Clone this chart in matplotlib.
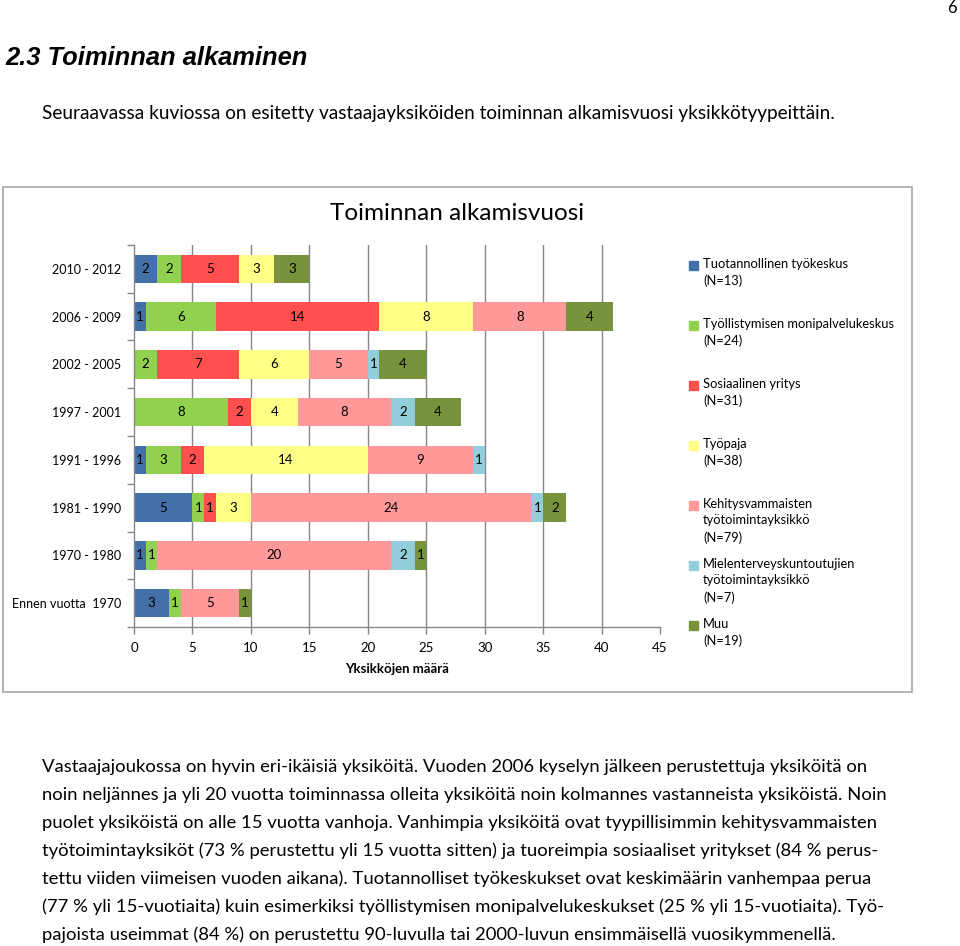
import numpy as np
import matplotlib
matplotlib.use("Agg")
import matplotlib.pyplot as plt
from matplotlib.patches import Rectangle

plt.rcParams['font.family'] = ['Lato', 'DejaVu Sans']

# ── data ──────────────────────────────────────────────
categories = ['2010 - 2012', '2006 - 2009', '2002 - 2005', '1997 - 2001',
              '1991 - 1996', '1981 - 1990', '1970 - 1980', 'Ennen vuotta  1970']
series = ['Tuotannollinen työkeskus\n(N=13)',
          'Työllistymisen monipalvelukeskus\n(N=24)',
          'Sosiaalinen yritys\n(N=31)',
          'Työpaja\n(N=38)',
          'Kehitysvammaisten\ntyötoimintayksikkö\n(N=79)',
          'Mielenterveyskuntoutujien\ntyötoimintayksikkö\n(N=7)',
          'Muu\n(N=19)']
tuotannollinen = [2, 1, 0, 0, 1, 5, 1, 3]
tyollistyminen = [2, 6, 2, 8, 3, 1, 1, 1]
sosiaalinen = [5, 14, 7, 2, 2, 1, 0, 0]
tyopaja = [3, 8, 6, 4, 14, 3, 0, 0]
kehitysvamma = [0, 8, 5, 8, 9, 24, 20, 5]
mielenterveys = [0, 0, 1, 2, 1, 1, 2, 0]
muu = [3, 4, 4, 4, 0, 2, 1, 1]
values = [tuotannollinen, tyollistyminen, sosiaalinen, tyopaja,
          kehitysvamma, mielenterveys, muu]
colors = ['#4470A8', '#92D050', '#FF5050', '#FFFF88', '#FF9999', '#92CDDC', '#77933C']
xticks = [0, 5, 10, 15, 20, 25, 30, 35, 40, 45]

body_lines = [
    'Vastaajajoukossa on hyvin eri-ikäisiä yksiköitä. Vuoden 2006 kyselyn jälkeen perustettuja yksiköitä on',
    'noin neljännes ja yli 20 vuotta toiminnassa olleita yksiköitä noin kolmannes vastanneista yksiköistä. Noin',
    'puolet yksiköistä on alle 15 vuotta vanhoja. Vanhimpia yksiköitä ovat tyypillisimmin kehitysvammaisten',
    'työtoimintayksiköt (73 % perustettu yli 15 vuotta sitten) ja tuoreimpia sosiaaliset yritykset (84 % perus-',
    'tettu viiden viimeisen vuoden aikana). Tuotannolliset työkeskukset ovat keskimäärin vanhempaa perua',
    '(77 % yli 15-vuotiaita) kuin esimerkiksi työllistymisen monipalvelukeskukset (25 % yli 15-vuotiaita). Työ-',
    'pajoista useimmat (84 %) on perustettu 90-luvulla tai 2000-luvun ensimmäisellä vuosikymmenellä.',
]

W, H = 960, 946
fig = plt.figure(figsize=(W / 100, H / 100), dpi=100)

def fx(px):
    return px / W

def fy(py):
    return 1 - py / H

# page texts
fig.text(fx(952), fy(8), '6', fontsize=12, ha='center', va='center')
fig.text(fx(5), fy(58), '2.3 Toiminnan alkaminen', family='Liberation Sans',
         fontsize=18.4, fontweight='bold', style='italic', ha='left', va='center')
fig.text(fx(42), fy(113), 'Seuraavassa kuviossa on esitetty vastaajayksiköiden toiminnan alkamisvuosi yksikkötyypeittäin.',
         fontsize=13.7, ha='left', va='center')
for i, line in enumerate(body_lines):
    fig.text(fx(42), fy(767 + 28 * i), line, fontsize=13.3, ha='left', va='center')

# chart frame
fig.patches.append(Rectangle((fx(3), fy(692)), fx(912) - fx(3), fy(187) - fy(692),
                             transform=fig.transFigure, fill=False,
                             edgecolor='#A6A6A6', linewidth=1.2))
fig.text(fx(457), fy(214), 'Toiminnan alkamisvuosi', fontsize=17.5, ha='center', va='center')

# ── axes ───────────────────────────────────────────────
ax = fig.add_axes([fx(134), fy(627), fx(660) - fx(134), fy(245) - fy(627)])
y = np.arange(len(categories))
left = np.zeros(len(categories))
for vals, col, name in zip(values, colors, series):
    vals = np.array(vals)
    bars = ax.barh(y, vals, left=left, height=0.6, color=col, label=name, zorder=2)
    for yi, v, l in zip(y, vals, left):
        if v > 0:
            ax.text(l + v / 2, yi, str(v), ha='center', va='center', fontsize=9.5, zorder=3)
    left += vals

ax.set_xlim(0, 45)
ax.set_ylim(len(categories) - 0.5, -0.5)
ax.set_xticks(xticks)
ax.set_xticklabels([str(t) for t in xticks], fontsize=9.5)
ax.set_yticks(y)
ax.set_yticklabels(categories, fontsize=9.0)
ax.set_yticks(np.arange(-0.5, len(categories)), minor=True)
ax.tick_params(axis='y', which='major', length=0, pad=9)
ax.tick_params(axis='y', which='minor', length=5, color='#868686', width=1)
ax.tick_params(axis='x', length=5, color='#868686', width=1, pad=6)
for t in xticks[1:-1]:
    ax.axvline(t, color='#868686', linewidth=1, zorder=1)
for s in ['top', 'right']:
    ax.spines[s].set_visible(False)
for s in ['left', 'bottom']:
    ax.spines[s].set_color('#868686')
    ax.spines[s].set_linewidth(1)
ax.set_xlabel('Yksikköjen määrä', fontsize=9.5, fontweight='bold', labelpad=6)

# legend drawn manually as figure texts
leg_y = [265, 325, 385, 445, 505, 565, 625]
for ly, col, name in zip(leg_y, colors, series):
    fig.patches.append(Rectangle((fx(689), fy(ly + 5)), fx(9), fy(0) - fy(9),
                                 transform=fig.transFigure, color=col))
    fig.text(fx(703), fy(ly - 7), name, fontsize=9.3, ha='left', va='top', linespacing=1.45)

fig.savefig('out.png', dpi=100)
